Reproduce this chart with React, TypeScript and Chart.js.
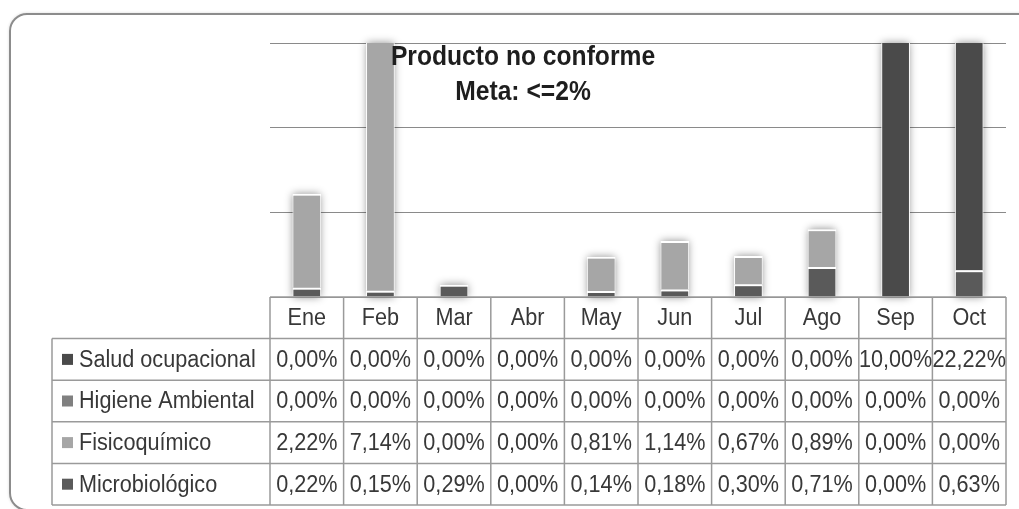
import React, { useEffect, useRef } from "react";
import { Chart, registerables } from "chart.js";

Chart.register(...registerables);

// ---- Data ----
const months = ["Ene", "Feb", "Mar", "Abr", "May", "Jun", "Jul", "Ago", "Sep", "Oct"];
const microbiologico = [0.22, 0.15, 0.29, 0.0, 0.14, 0.18, 0.3, 0.71, 0.0, 0.63];
const fisicoquimico = [2.22, 7.14, 0.0, 0.0, 0.81, 1.14, 0.67, 0.89, 0.0, 0.0];
const higieneAmbiental = [0.0, 0.0, 0.0, 0.0, 0.0, 0.0, 0.0, 0.0, 0.0, 0.0];
const saludOcupacional = [0.0, 0.0, 0.0, 0.0, 0.0, 0.0, 0.0, 0.0, 10.0, 22.22];
const seriesNames = ["Microbiológico", "Fisicoquímico", "Higiene Ambiental", "Salud ocupacional"];
const seriesColors = ["#5a5a5a", "#a6a6a6", "#808080", "#4a4a4a"];
const yTicks = [0, 2, 4, 6];
const titleLines = ["Producto no conforme", "Meta: <=2%"];

const seriesValues = [microbiologico, fisicoquimico, higieneAmbiental, saludOcupacional];

const W = 1019;
const H = 509;
const TABLE_FONT = "23px 'Liberation Sans', Arial, sans-serif";
const TABLE_SX = 0.94;
const TITLE_FONT = "bold 28px 'Liberation Sans', Arial, sans-serif";
const TITLE_SX = 0.88;
const LEGEND_LEFT = 52;
const ROW_H = 41.6;
const TITLE_X = 523;

const fmt = (v: number) => v.toFixed(2).replace(".", ",") + "%";

function drawText(ctx: CanvasRenderingContext2D, text: string, x: number, y: number, sx: number) {
  ctx.save();
  ctx.translate(x, y);
  ctx.scale(sx, 1);
  ctx.fillText(text, 0, 0);
  ctx.restore();
}

const shadowPlugin = {
  id: "barShadow",
  beforeDatasetsDraw(chart: any) {
    const { ctx, chartArea } = chart;
    const n = months.length;
    for (let i = 0; i < n; i++) {
      let topY = Infinity;
      let baseY = -Infinity;
      let x = 0;
      let w = 0;
      chart.data.datasets.forEach((ds: any, di: number) => {
        const el: any = chart.getDatasetMeta(di).data[i];
        if (!el) return;
        const p = el.getProps(["x", "y", "base", "width"], true);
        x = p.x;
        w = p.width;
        if (ds.data[i] > 0) {
          topY = Math.min(topY, p.y);
          baseY = Math.max(baseY, p.base);
        }
      });
      if (!isFinite(topY)) continue;
      topY = Math.max(topY, chartArea.top);
      ctx.save();
      ctx.shadowColor = "rgba(0,0,0,0.45)";
      ctx.shadowBlur = 8;
      ctx.fillStyle = "#d0d0d0";
      ctx.fillRect(x - w / 2 + 1, topY, w - 2, baseY - topY);
      ctx.restore();
    }
  },
};

const titlePlugin = {
  id: "overlayTitle",
  afterDatasetsDraw(chart: any) {
    const { ctx } = chart;
    ctx.save();
    ctx.font = TITLE_FONT;
    ctx.fillStyle = "#1e1e1e";
    ctx.textAlign = "center";
    ctx.textBaseline = "alphabetic";
    drawText(ctx, titleLines[0], TITLE_X, 65, TITLE_SX);
    drawText(ctx, titleLines[1], TITLE_X, 100, TITLE_SX);
    ctx.restore();
  },
};

const tablePlugin = {
  id: "dataTable",
  afterDraw(chart: any) {
    const { ctx, chartArea } = chart;
    const xs = chart.scales.x;
    const n = months.length;
    const left = chartArea.left;
    const right = chartArea.right;
    const colW = (right - left) / n;
    const top = chartArea.bottom;
    const rowOrder = [3, 2, 1, 0];
    const bottom = top + ROW_H * (rowOrder.length + 1);

    ctx.save();
    ctx.strokeStyle = "#9a9a9a";
    ctx.lineWidth = 1.5;
    ctx.beginPath();
    ctx.moveTo(left, top);
    ctx.lineTo(right, top);
    for (let r = 1; r <= rowOrder.length + 1; r++) {
      const y = top + r * ROW_H;
      ctx.moveTo(LEGEND_LEFT, y);
      ctx.lineTo(right, y);
    }
    for (let i = 0; i <= n; i++) {
      const x = left + i * colW;
      ctx.moveTo(x, top);
      ctx.lineTo(x, bottom);
    }
    ctx.moveTo(LEGEND_LEFT, top + ROW_H);
    ctx.lineTo(LEGEND_LEFT, bottom);
    ctx.stroke();

    ctx.font = TABLE_FONT;
    ctx.fillStyle = "#383838";
    ctx.textBaseline = "middle";
    ctx.textAlign = "center";
    months.forEach((m, i) => {
      drawText(ctx, m, xs.getPixelForValue(i), top + ROW_H / 2 + 1, TABLE_SX);
    });

    rowOrder.forEach((si, r) => {
      const cy = top + (r + 1) * ROW_H + ROW_H / 2 + 1;
      ctx.fillStyle = seriesColors[si];
      ctx.fillRect(LEGEND_LEFT + 10, cy - 6.5, 11, 11);
      ctx.fillStyle = "#383838";
      ctx.textAlign = "left";
      drawText(ctx, seriesNames[si], LEGEND_LEFT + 27, cy, TABLE_SX);
      ctx.textAlign = "center";
      seriesValues[si].forEach((v, i) => {
        drawText(ctx, fmt(v), xs.getPixelForValue(i), cy, TABLE_SX);
      });
    });
    ctx.restore();
  },
};

export default function App() {
  const canvasRef = useRef<HTMLCanvasElement | null>(null);

  useEffect(() => {
    if (!canvasRef.current) return;
    const chart = new Chart(canvasRef.current, {
      type: "bar",
      data: {
        labels: months,
        datasets: seriesNames.map((name, i) => ({
          label: name,
          data: seriesValues[i],
          backgroundColor: seriesColors[i],
          borderColor: "#ffffff",
          borderWidth: { top: 2, left: 1, right: 1, bottom: 0 },
          borderSkipped: "start",
          barPercentage: 0.39,
          categoryPercentage: 1,
        })),
      },
      options: {
        responsive: false,
        devicePixelRatio: 1,
        animation: false,
        layout: { padding: { left: 270, right: 13, top: 43, bottom: 212 } },
        plugins: {
          legend: { display: false },
          tooltip: { enabled: false },
          title: { display: false },
        },
        scales: {
          x: {
            stacked: true,
            display: false,
          },
          y: {
            stacked: true,
            min: 0,
            max: 6,
            display: true,
            ticks: { display: false },
            grid: { color: "#8a8a8a", lineWidth: 1, drawTicks: false },
            border: { display: false },
            afterBuildTicks: (s: any) => {
              s.ticks = yTicks.map((v) => ({ value: v }));
            },
            afterFit: (s: any) => {
              s.width = 0;
            },
          },
        },
      } as any,
      plugins: [shadowPlugin, titlePlugin, tablePlugin],
    });
    return () => chart.destroy();
  }, []);

  return (
    <div
      style={{
        position: "fixed",
        left: 0,
        top: 0,
        width: W,
        height: H,
        overflow: "hidden",
        background: "#ffffff",
      }}
    >
      <div
        style={{
          position: "absolute",
          left: 9,
          top: 13,
          width: 1060,
          height: 494,
          border: "2px solid #8c8c8c",
          borderRadius: 18,
          boxShadow: "0 0 3px rgba(0,0,0,0.15)",
        }}
      />
      <canvas
        ref={canvasRef}
        width={W}
        height={H}
        style={{ position: "absolute", left: 0, top: 0, width: W, height: H }}
      />
    </div>
  );
}
